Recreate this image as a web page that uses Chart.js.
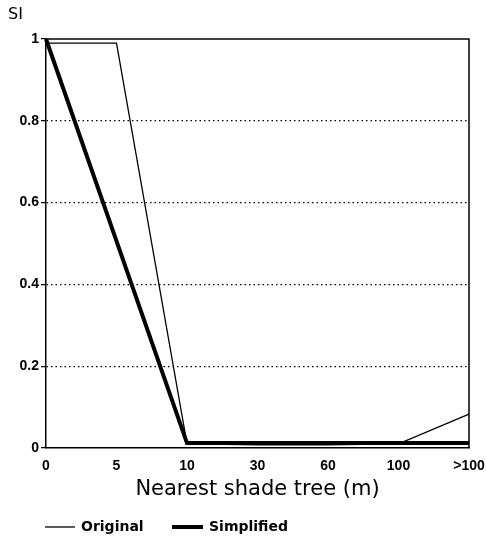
<!DOCTYPE html>
<html>
<head>
<meta charset="utf-8">
<script src="https://cdn.jsdelivr.net/npm/chart.js@4/dist/chart.umd.min.js"></script>
<style>
  html, body { margin: 0; padding: 0; background: #fff; }
  #chart { display: block; }
</style>
</head>
<body>
<canvas id="chart" width="486" height="537"></canvas>
<script>
// x categories (distance to nearest shade tree, m)
var distances = ['0', '5', '10', '30', '60', '100', '>100'];
// suitability index curves
var originalSI = [0.99, 0.99, 0.01, 0.008, 0.008, 0.01, 0.083];
var simplifiedSI = [1, null, 0.012, 0.012, 0.012, 0.012, 0.012];
var yTicks = [0, 0.2, 0.4, 0.6, 0.8, 1];

var fontFamily = '"DejaVu Sans", sans-serif';
var tickFamily = '"Liberation Sans", Arial, sans-serif';

// draw the top and right sides of the frame
var framePlugin = {
  id: 'frame',
  afterDatasetsDraw: function(chart) {
    var a = chart.chartArea;
    var ctx = chart.ctx;
    ctx.save();
    ctx.strokeStyle = '#000';
    ctx.lineWidth = 1.5;
    ctx.beginPath();
    ctx.moveTo(a.left, a.top);
    ctx.lineTo(a.right, a.top);
    ctx.lineTo(a.right, a.bottom);
    ctx.stroke();
    ctx.restore();
  }
};

// "SI" label and the legend under the axis title
var textPlugin = {
  id: 'texts',
  afterDraw: function(chart) {
    var ctx = chart.ctx;
    ctx.save();
    ctx.fillStyle = '#000';
    ctx.strokeStyle = '#000';
    ctx.font = '16px ' + fontFamily;
    ctx.textBaseline = 'middle';
    ctx.fillText('SI', 8, 15);

    // legend
    var y = 527;
    var items = [
      { x: 45, len: 30, ds: chart.data.datasets[0] },
      { x: 172, len: 31, ds: chart.data.datasets[1] }
    ];
    ctx.font = 'bold 14px ' + fontFamily;
    items.forEach(function(it) {
      ctx.lineWidth = it.ds.borderWidth;
      ctx.beginPath();
      ctx.moveTo(it.x, y);
      ctx.lineTo(it.x + it.len, y);
      ctx.stroke();
      ctx.fillText(it.ds.label, it.x + it.len + 6, y);
    });
    ctx.restore();
  }
};

var ctx = document.getElementById('chart').getContext('2d');
new Chart(ctx, {
  type: 'line',
  data: {
    labels: distances,
    datasets: [{
      label: 'Original',
      data: originalSI,
      borderColor: '#000',
      backgroundColor: '#000',
      borderWidth: 1.3,
      pointRadius: 0,
      tension: 0
    }, {
      label: 'Simplified',
      data: simplifiedSI,
      borderColor: '#000',
      backgroundColor: '#000',
      borderWidth: 4,
      pointRadius: 0,
      spanGaps: true,
      tension: 0
    }]
  },
  options: {
    responsive: false,
    animation: false,
    layout: { padding: { left: 0, right: 17, top: 39, bottom: 33 } },
    plugins: {
      tooltip: { enabled: false },
      legend: { display: false }
    },
    scales: {
      x: {
        type: 'category',
        offset: false,
        afterFit: function(axis) {
          axis.height = 56;
          axis.paddingLeft = 0;
          axis.paddingRight = 0;
        },
        grid: { display: false, drawTicks: false },
        border: { display: true, color: '#000', width: 1.5 },
        ticks: {
          color: '#000',
          font: { family: tickFamily, size: 14, weight: 'bold' },
          padding: 10,
          maxRotation: 0,
          autoSkip: false
        },
        title: {
          display: true,
          text: 'Nearest shade tree (m)',
          color: '#000',
          font: { family: fontFamily, size: 21 },
          padding: { top: 4, bottom: 2 }
        }
      },
      y: {
        min: 0,
        max: 1,
        afterFit: function(axis) {
          axis.width = 46;
        },
        afterBuildTicks: function(axis) {
          axis.ticks = yTicks.map(function(v) { return { value: v }; });
        },
        grid: {
          drawOnChartArea: true,
          color: function(c) {
            var v = c.tick ? c.tick.value : 0;
            return (v === 0 || v === 1) ? 'rgba(0,0,0,0)' : '#000';
          },
          lineWidth: 1.2,
          tickColor: '#000',
          tickLength: 5,
          tickWidth: 1.3
        },
        border: { display: true, color: '#000', width: 1.5, dash: [1.5, 3] },
        ticks: {
          color: '#000',
          font: { family: tickFamily, size: 14, weight: 'bold' },
          padding: 2,
          callback: function(v) { return String(Math.round(v * 10) / 10); }
        }
      }
    }
  },
  plugins: [framePlugin, textPlugin]
});
</script>
</body>
</html>
